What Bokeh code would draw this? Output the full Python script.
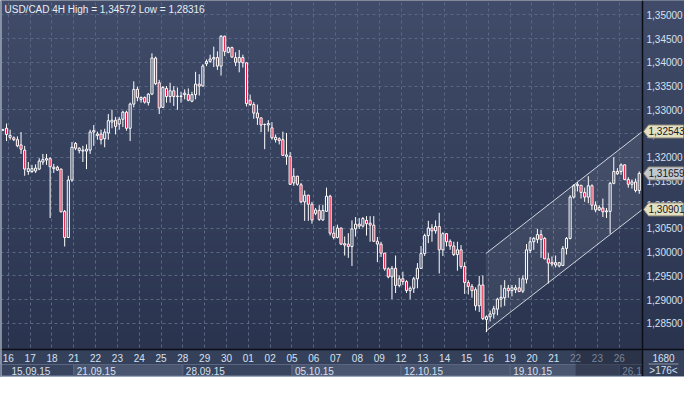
import numpy as np
from bokeh.plotting import figure
from bokeh.models import Range1d, ColumnDataSource, Grid, FixedTicker
from bokeh.core.properties import value
from bokeh.embed import file_html
from bokeh.resources import INLINE

# ---------------- data ----------------
title_text = "USD/CAD 4H High = 1,34572 Low = 1,28316"

opens = [1.3258, 1.3261, 1.3242, 1.3241, 1.3237, 1.3226, 1.3215, 1.3170, 1.3170, 1.3171,
         1.3175, 1.3190, 1.3194, 1.3197, 1.3176, 1.3179, 1.3175, 1.3086, 1.3031, 1.3152,
         1.3229, 1.3214, 1.3213, 1.3213, 1.3215, 1.3253, 1.3246, 1.3249, 1.3239, 1.3251,
         1.3274, 1.3278, 1.3270, 1.3280, 1.3295, 1.3261, 1.3312, 1.3343, 1.3322, 1.3326,
         1.3315, 1.3333, 1.3409, 1.3357, 1.3305, 1.3345, 1.3328, 1.3340, 1.3328, 1.3329,
         1.3332, 1.3332, 1.3318, 1.3332, 1.3354, 1.3350, 1.3397, 1.3402, 1.3407, 1.3410,
         1.3392, 1.3455, 1.3421, 1.3431, 1.3410, 1.3400, 1.3410, 1.3399, 1.3320, 1.3311,
         1.3293, 1.3283, 1.3269, 1.3268, 1.3262, 1.3237, 1.3239, 1.3237, 1.3202, 1.3202,
         1.3146, 1.3160, 1.3142, 1.3106, 1.3120, 1.3101, 1.3082, 1.3088, 1.3068, 1.3086,
         1.3118, 1.3040, 1.3031, 1.3051, 1.3018, 1.3017, 1.3012, 1.3049, 1.3059, 1.3055,
         1.3067, 1.3061, 1.3057, 1.3023, 1.3017, 1.2998, 1.2965, 1.2948, 1.2966, 1.2930,
         1.2944, 1.2938, 1.2919, 1.2924, 1.2944, 1.2966, 1.2997, 1.3035, 1.3051, 1.3045,
         1.3054, 1.3005, 1.3039, 1.3023, 1.3013, 1.2995, 1.3005, 1.2970, 1.2936, 1.2928,
         1.2921, 1.2887, 1.2931, 1.2858, 1.2864, 1.2870, 1.2880, 1.2901, 1.2904, 1.2924,
         1.2919, 1.2921, 1.2925, 1.2918, 1.2943, 1.3004, 1.3022, 1.3027, 1.3037, 1.3029,
         1.2986, 1.2978, 1.2978, 1.2971, 1.2972, 1.3008, 1.3029, 1.3116, 1.3140, 1.3141,
         1.3126, 1.3116, 1.3140, 1.3099, 1.3089, 1.3093, 1.3085, 1.3086, 1.3145, 1.3170,
         1.3170, 1.3184, 1.3153, 1.3143, 1.3148, 1.3130]
highs = [1.3260, 1.3271, 1.3258, 1.3244, 1.3244, 1.3253, 1.3224, 1.3190, 1.3184, 1.3185,
         1.3198, 1.3207, 1.3207, 1.3200, 1.3186, 1.3182, 1.3176, 1.3089, 1.3161, 1.3232,
         1.3232, 1.3221, 1.3224, 1.3227, 1.3258, 1.3268, 1.3254, 1.3258, 1.3260, 1.3291,
         1.3300, 1.3285, 1.3285, 1.3298, 1.3298, 1.3315, 1.3360, 1.3349, 1.3328, 1.3328,
         1.3335, 1.3419, 1.3412, 1.3363, 1.3350, 1.3350, 1.3357, 1.3350, 1.3347, 1.3338,
         1.3343, 1.3345, 1.3338, 1.3380, 1.3375, 1.3396, 1.3406, 1.3416, 1.3433, 1.3423,
         1.34572, 1.3456, 1.3433, 1.3433, 1.3421, 1.3426, 1.3416, 1.3400, 1.3332, 1.3316,
         1.3311, 1.3283, 1.3271, 1.3278, 1.3274, 1.3248, 1.3242, 1.3254, 1.3251, 1.3211,
         1.3177, 1.3161, 1.3146, 1.3130, 1.3121, 1.3106, 1.3093, 1.3099, 1.3100, 1.3136,
         1.3121, 1.3055, 1.3058, 1.3051, 1.3033, 1.3040, 1.3067, 1.3074, 1.3072, 1.3074,
         1.3076, 1.3076, 1.3076, 1.3032, 1.3022, 1.2998, 1.2968, 1.2971, 1.2993, 1.2951,
         1.2959, 1.2941, 1.2928, 1.2948, 1.2977, 1.3013, 1.3039, 1.3066, 1.3059, 1.3067,
         1.3083, 1.3042, 1.3040, 1.3027, 1.3022, 1.3022, 1.3015, 1.2979, 1.2941, 1.2933,
         1.2926, 1.2950, 1.2951, 1.2867, 1.2877, 1.2887, 1.2904, 1.2931, 1.2941, 1.2931,
         1.2931, 1.2931, 1.2946, 1.2951, 1.3017, 1.3032, 1.3032, 1.3049, 1.3047, 1.3032,
         1.2998, 1.2991, 1.2993, 1.2979, 1.3013, 1.3032, 1.3120, 1.3143, 1.3148, 1.3141,
         1.3136, 1.3160, 1.3143, 1.3107, 1.3099, 1.3113, 1.3093, 1.3148, 1.3200, 1.3177,
         1.3187, 1.3185, 1.3158, 1.3153, 1.3155, 1.3170]
lows = [1.3255, 1.3234, 1.3237, 1.3234, 1.3221, 1.3207, 1.3161, 1.3163, 1.3167, 1.3167,
        1.3173, 1.3184, 1.3184, 1.3072, 1.3167, 1.3171, 1.3084, 1.3012, 1.3030, 1.3148,
        1.3215, 1.3208, 1.3190, 1.3175, 1.3207, 1.3224, 1.3237, 1.3227, 1.3221, 1.3237,
        1.3261, 1.3248, 1.3258, 1.3264, 1.3256, 1.3234, 1.3305, 1.3318, 1.3315, 1.3313,
        1.3309, 1.3331, 1.3352, 1.3291, 1.3304, 1.3315, 1.3315, 1.3308, 1.3300, 1.3315,
        1.3322, 1.3318, 1.3316, 1.3322, 1.3330, 1.3349, 1.3392, 1.3399, 1.3390, 1.3384,
        1.3372, 1.3413, 1.3419, 1.3410, 1.3392, 1.3379, 1.3389, 1.3307, 1.3308, 1.3281,
        1.3268, 1.3253, 1.3217, 1.3254, 1.3237, 1.3231, 1.3227, 1.3203, 1.3184, 1.3142,
        1.3140, 1.3140, 1.3103, 1.3066, 1.3066, 1.3060, 1.3078, 1.3066, 1.3066, 1.3085,
        1.3035, 1.3027, 1.3029, 1.3015, 1.2993, 1.2988, 1.2971, 1.3033, 1.3049, 1.3052,
        1.3035, 1.3022, 1.3022, 1.2979, 1.2990, 1.2961, 1.2945, 1.2901, 1.2914, 1.2926,
        1.2931, 1.2914, 1.2901, 1.2914, 1.2924, 1.2965, 1.2992, 1.3019, 1.3022, 1.3039,
        1.2955, 1.2992, 1.3012, 1.3005, 1.2992, 1.2961, 1.2965, 1.2912, 1.2911, 1.2904,
        1.2877, 1.2874, 1.2857, 1.28316, 1.2854, 1.2860, 1.2867, 1.2884, 1.2887, 1.2904,
        1.2907, 1.2914, 1.2916, 1.2914, 1.2934, 1.2998, 1.3005, 1.3019, 1.2988, 1.2985,
        1.2934, 1.2970, 1.2968, 1.2968, 1.2971, 1.2995, 1.3027, 1.3113, 1.3128, 1.3113,
        1.3106, 1.3103, 1.3089, 1.3084, 1.3087, 1.3074, 1.3072, 1.3039, 1.3143, 1.3163,
        1.3163, 1.3152, 1.3136, 1.3134, 1.3126, 1.3123]
closes = [1.3257, 1.3248, 1.3246, 1.3237, 1.3224, 1.3217, 1.3175, 1.3176, 1.3176, 1.3177,
          1.3192, 1.3195, 1.3197, 1.3180, 1.3179, 1.3173, 1.3085, 1.3031, 1.3152, 1.3221,
          1.3219, 1.3219, 1.3215, 1.3217, 1.3253, 1.3256, 1.3249, 1.3237, 1.3253, 1.3277,
          1.3278, 1.3265, 1.3280, 1.3295, 1.3261, 1.3312, 1.3343, 1.3326, 1.3326, 1.3316,
          1.3333, 1.3409, 1.3355, 1.3304, 1.3347, 1.3328, 1.3340, 1.3328, 1.3329, 1.3328,
          1.3335, 1.3320, 1.3332, 1.3354, 1.3350, 1.3392, 1.3402, 1.3407, 1.3410, 1.3392,
          1.3455, 1.3423, 1.3431, 1.3411, 1.3400, 1.3410, 1.3399, 1.3313, 1.3311, 1.3293,
          1.3283, 1.3268, 1.3269, 1.3271, 1.3241, 1.3242, 1.3235, 1.3204, 1.3205, 1.3143,
          1.3160, 1.3143, 1.3106, 1.3120, 1.3101, 1.3068, 1.3089, 1.3069, 1.3088, 1.3118,
          1.3040, 1.3031, 1.3051, 1.3017, 1.3015, 1.3012, 1.3049, 1.3059, 1.3055, 1.3071,
          1.3060, 1.3057, 1.3023, 1.3017, 1.2998, 1.2965, 1.2948, 1.2966, 1.2930, 1.2944,
          1.2938, 1.2919, 1.2924, 1.2944, 1.2966, 1.2997, 1.3035, 1.3051, 1.3045, 1.3054,
          1.3005, 1.3039, 1.3022, 1.3013, 1.2995, 1.3005, 1.2970, 1.2936, 1.2928, 1.2919,
          1.2887, 1.2931, 1.2860, 1.2864, 1.2870, 1.2881, 1.2901, 1.2905, 1.2924, 1.2919,
          1.2925, 1.2925, 1.2917, 1.2944, 1.3005, 1.3022, 1.3029, 1.3037, 1.3027, 1.2986,
          1.2977, 1.2975, 1.2973, 1.2978, 1.3008, 1.3029, 1.3116, 1.3140, 1.3143, 1.3126,
          1.3116, 1.3140, 1.3099, 1.3089, 1.3094, 1.3085, 1.3087, 1.3145, 1.3170, 1.3165,
          1.3184, 1.3153, 1.3143, 1.3148, 1.3130, 1.31659]

day_labels = ["16", "17", "18", "21", "22", "23", "24", "25", "28", "29", "30", "01", "02",
              "05", "06", "07", "08", "09", "12", "13", "14", "15", "16", "19", "20", "21",
              "22", "23", "26"]
week_labels = ["15.09.15", "21.09.15", "28.09.15", "05.10.15", "12.10.15", "19.10.15", "26.1"]
week_first_day = [0, 3, 8, 13, 18, 23, 28]
week_band_light = [False, True, False, True, True, True, False]
bars_per_day = 6
bars_before_first_day = 2
dim_from_day = 26

price_ticks = [1.285, 1.290, 1.295, 1.300, 1.305, 1.310, 1.315, 1.320, 1.325, 1.330,
               1.335, 1.340, 1.345, 1.350]

channel_x = [132.8, 175.9]
channel_upper = [1.2997, 1.32543]
channel_lower = [1.28333, 1.30901]

tag_values = [1.32543, 1.31659, 1.30901]
tag_texts = ["1,32543", "1,31659", "1,30901"]
tag_colors = ["#e4dfc2", "#c3c7cf", "#e4dfc2"]

corner_top = "1680"
corner_bottom = ">176<"

# ---------------- layout / style ----------------
W, H = 684, 377
PX_L, PX_R, PX_T, PX_B = 2, 642, 2, 349      # plot area on the canvas
ROW1 = 14                                     # day-number row height
X_START, X_END = -0.1, len(opens) - 0.1
Y_BOT, Y_TOP = 1.2795, 1.3526
FONT = "Liberation Sans"
FS = "10px"
BG_TOP, BG_BOTTOM = (0x40, 0x4c, 0x69), (0x2a, 0x34, 0x4f)
PANEL = "#35405a"
TXT = "#d6e0ef"
DIM = "#7a8499"
GRID = "#5a6784"
RED = "#e3143f"
BLACK = "#0b0e14"

sx = (PX_R - PX_L) / (X_END - X_START)
sy = (PX_B - PX_T) / (Y_TOP - Y_BOT)
xr = Range1d(X_START - PX_L / sx, X_END + (W - PX_R) / sx)
yr = Range1d(Y_BOT - (H - PX_B) / sy, Y_TOP + PX_T / sy)


def X(px):
    return xr.start + px / sx


def Y(py):
    return yr.end - py / sy


def DX(px):
    return px / sx


def DY(py):
    return py / sy


n = len(opens)
idx = np.arange(n)
o = np.array(opens); h = np.array(highs); l = np.array(lows); c = np.array(closes)
body_top = np.maximum(o, c)
body_bot = np.minimum(o, c)
bull = c >= o

p = figure(width=W, height=H, x_range=xr, y_range=yr, output_backend="svg",
           toolbar_location=None, x_axis_location=None, y_axis_location=None,
           min_border=0, min_border_left=0, min_border_right=0, min_border_top=0,
           min_border_bottom=0)
p.outline_line_color = None
p.background_fill_color = PANEL
p.border_fill_color = PANEL
p.xgrid.visible = False
p.ygrid.visible = False


def gradient(rows=200):
    tv = np.linspace(0, 1, rows)[:, None]
    img = np.empty((rows, 1), dtype=np.uint32)
    view = img.view(dtype=np.uint8).reshape((rows, 1, 4))
    for k in range(3):
        view[:, :, k] = (BG_BOTTOM[k] + (BG_TOP[k] - BG_BOTTOM[k]) * tv).astype(np.uint8)
    view[:, :, 3] = 255
    return img


# gradient background of the chart area (below grid)
p.image_rgba(image=[gradient()], x=xr.start, y=Y(PX_B), dw=xr.end - xr.start,
             dh=Y(0) - Y(PX_B), level="image")

# dashed grid
day_pos = [bars_before_first_day - 0.5 + bars_per_day * k for k in range(len(day_labels))]
p.add_layout(Grid(dimension=0, ticker=FixedTicker(ticks=day_pos), grid_line_color=GRID,
                  grid_line_dash="3 3", grid_line_width=1))
p.add_layout(Grid(dimension=1, ticker=FixedTicker(ticks=price_ticks), grid_line_color=GRID,
                  grid_line_dash="3 3", grid_line_width=1))

# channel
p.patch(x=channel_x + channel_x[::-1], y=channel_upper + channel_lower[::-1],
        fill_color="white", fill_alpha=0.07, line_color=None)
p.line(x=channel_x, y=channel_upper, line_color="#cfd4de", line_width=1)
p.line(x=channel_x, y=channel_lower, line_color="#cfd4de", line_width=1)

# candles
src = ColumnDataSource(dict(x=idx, h=h, l=l, top=body_top, bot=body_bot,
                            fill=[("#000000" if b else RED) for b in bull],
                            alpha=[(0.0 if b else 1.0) for b in bull]))
p.segment(x0="x", y0="h", x1="x", y1="top", source=src, line_color="white", line_width=1)
p.segment(x0="x", y0="bot", x1="x", y1="l", source=src, line_color="white", line_width=1)
p.vbar(x="x", top="top", bottom="bot", width=DX(2.1), source=src, fill_color="fill",
       fill_alpha="alpha", line_color="white", line_width=1)

# title
p.text(x=[X(4)], y=[Y(3)], text=[title_text], text_baseline="top", text_align="left",
       text_color="#e9eef7", text_font=value(FONT), text_font_size=value("10px"))

# ---- bottom panel ----
p.quad(left=[xr.start], right=[xr.end], bottom=[yr.start], top=[Y(PX_B)],
       fill_color=PANEL, line_color=None)
wl, wr, wc = [], [], []
for i, fd in enumerate(week_first_day):
    wl.append(X(0) if i == 0 else day_pos[fd])
    wr.append(day_pos[week_first_day[i + 1]] if i + 1 < len(week_first_day) else X(PX_R))
    wc.append("#4a5570" if week_band_light[i] else "#39445e")
p.quad(left=wl, right=wr, bottom=[Y(H - 2)] * len(wl), top=[Y(PX_B + ROW1 + 1)] * len(wl),
       fill_color=wc, line_color="#5b6782", line_width=1)
# dim zone of the current (unfinished) week
p.quad(left=[day_pos[dim_from_day]], right=[X(PX_R)], bottom=[Y(H - 2)], top=[Y(PX_B)],
       fill_color="#1c2334", fill_alpha=0.45, line_color=None)

day_cols = [DIM if k >= dim_from_day else TXT for k in range(len(day_labels))]
p.text(x=day_pos, y=[Y(PX_B + 8)] * len(day_pos), text=day_labels, text_align="center",
       text_baseline="middle", text_color=day_cols, text_font=value(FONT),
       text_font_size=value(FS))
wk_x = [X(8)] + [day_pos[fd] for fd in week_first_day[1:]]
wk_cols = [TXT] * (len(week_labels) - 1) + [DIM]
p.text(x=wk_x, y=[Y(PX_B + 21)] * len(wk_x), text=week_labels, text_align="left",
       text_baseline="middle", x_offset=3, text_color=wk_cols, text_font=value(FONT),
       text_font_size=value(FS))

# ---- right scale (own gradient, covers grid overflow) ----
p.image_rgba(image=[gradient()], x=X(PX_R), y=Y(PX_B), dw=xr.end - X(PX_R),
             dh=Y(0) - Y(PX_B))
p.quad(left=[X(PX_R)], right=[xr.end], bottom=[yr.start], top=[Y(PX_B)],
       fill_color=PANEL, line_color=None)
p.text(x=[X(PX_R + 4)] * len(price_ticks), y=price_ticks,
       text=[f"{v:.5f}".replace(".", ",") for v in price_ticks], text_align="left",
       text_baseline="middle", text_color=TXT, text_font=value(FONT),
       text_font_size=value(FS))

# price tags
txs, tys = [], []
for v in tag_values:
    txs.append([X(PX_R + 1), X(PX_R + 6), X(W - 1), X(W - 1), X(PX_R + 6)])
    tys.append([v, v + DY(6.5), v + DY(6.5), v - DY(6.5), v - DY(6.5)])
p.patches(xs=txs, ys=tys, fill_color=tag_colors, line_color="#8e8a76", line_width=1)
p.text(x=[X(PX_R + 6)] * len(tag_values), y=tag_values, text=tag_texts, text_align="left",
       text_baseline="middle", text_color="#151922", text_font=value(FONT),
       text_font_size=value(FS))

# corner box
p.text(x=[X((PX_R + W) / 2)] * 2, y=[Y(PX_B + 8), Y(PX_B + 21)],
       text=[corner_top, corner_bottom], text_align="center", text_baseline="middle",
       text_color=TXT, text_font=value(FONT), text_font_size=value(FS))
p.segment(x0=[X(PX_R + 6)], x1=[X(W - 6)], y0=[Y(PX_B + 14.5)], y1=[Y(PX_B + 14.5)],
          line_color="#8d97ab", line_width=1)

# frame lines
p.segment(x0=[X(PX_R)], x1=[X(PX_R)], y0=[Y(0)], y1=[Y(H)], line_color=BLACK, line_width=1.5)
p.segment(x0=[X(0)], x1=[X(W)], y0=[Y(PX_B)], y1=[Y(PX_B)], line_color=BLACK,
          line_width=1.5)
p.segment(x0=[X(0.5)], x1=[X(0.5)], y0=[Y(0)], y1=[Y(H)], line_color="#9aa6bb",
          line_width=1.5)
p.segment(x0=[X(0)], x1=[X(W)], y0=[Y(H - 0.8)], y1=[Y(H - 0.8)], line_color="#9aa6bb",
          line_width=1.6)

open("out.html", "w").write(file_html(p, INLINE))
